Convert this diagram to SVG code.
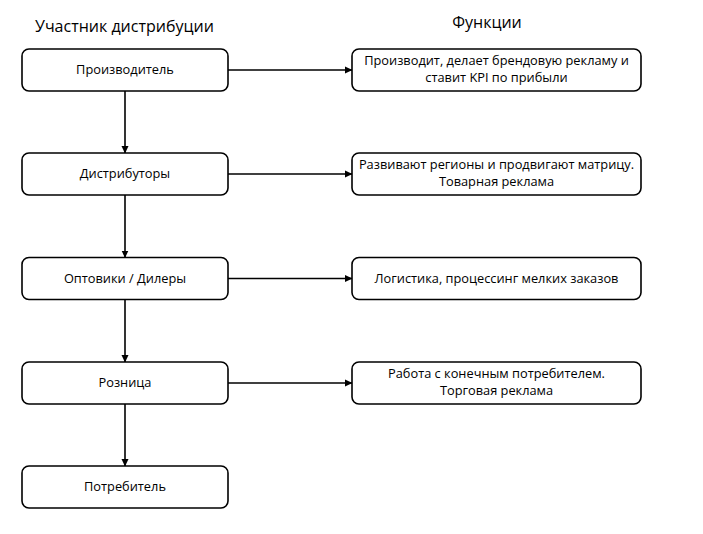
<svg xmlns="http://www.w3.org/2000/svg" width="703" height="534" viewBox="0 0 703 534">
<defs>
<marker id="ah" markerWidth="8" markerHeight="8" refX="7" refY="4" orient="auto" markerUnits="userSpaceOnUse">
<path d="M0,0.5 L7.5,4 L0,7.5 Z" fill="#000"/>
</marker>
<style>
.box{fill:#fff;stroke:#000;stroke-width:1.6}
.t{font-family:"Open Sans","Noto Sans",sans-serif;font-size:12.8px;fill:#000;text-anchor:middle}
.h{font-family:"Open Sans","Noto Sans",sans-serif;font-size:16px;fill:#000}
.c{stroke:#000;stroke-width:1.6;fill:none;marker-end:url(#ah)}
</style>
</defs>
<rect width="703" height="534" fill="#fff"/>
<text class="h" x="35" y="32">Участник дистрибуции</text>
<text class="h" x="487" y="28" text-anchor="middle">Функции</text>
<g id="connectors">
<line class="c" x1="125" y1="91" x2="125" y2="153"/>
<line class="c" x1="125" y1="195" x2="125" y2="257.5"/>
<line class="c" x1="125" y1="299.5" x2="125" y2="362"/>
<line class="c" x1="125" y1="404" x2="125" y2="466"/>
<line class="c" x1="228" y1="70" x2="352" y2="70"/>
<line class="c" x1="228" y1="174" x2="352" y2="174"/>
<line class="c" x1="228" y1="278.5" x2="352" y2="278.5"/>
<line class="c" x1="228" y1="383" x2="352" y2="383"/>
</g>
<g id="n1"><rect class="box" x="22" y="49" width="206" height="42" rx="7"/><text class="t" x="125" y="74">Производитель</text></g>
<g id="n2"><rect class="box" x="22" y="153" width="206" height="42" rx="7"/><text class="t" x="125" y="178">Дистрибуторы</text></g>
<g id="n3"><rect class="box" x="22" y="257.5" width="206" height="42" rx="7"/><text class="t" x="125" y="282.5">Оптовики / Дилеры</text></g>
<g id="n4"><rect class="box" x="22" y="362" width="206" height="42" rx="7"/><text class="t" x="125" y="387">Розница</text></g>
<g id="n5"><rect class="box" x="22" y="466" width="206" height="42" rx="7"/><text class="t" x="125" y="491">Потребитель</text></g>
<g id="f1"><rect class="box" x="352" y="49" width="289" height="42" rx="7"/><text class="t" x="496.5" y="64.5">Производит, делает брендовую рекламу и</text><text class="t" x="496.5" y="82">ставит KPI по прибыли</text></g>
<g id="f2"><rect class="box" x="352" y="153" width="289" height="42" rx="7"/><text class="t" x="496.5" y="168.5">Развивают регионы и продвигают матрицу.</text><text class="t" x="496.5" y="186">Товарная реклама</text></g>
<g id="f3"><rect class="box" x="352" y="257.5" width="289" height="42" rx="7"/><text class="t" x="496.5" y="282.5">Логистика, процессинг мелких заказов</text></g>
<g id="f4"><rect class="box" x="352" y="362" width="289" height="42" rx="7"/><text class="t" x="496.5" y="377.5">Работа с конечным потребителем.</text><text class="t" x="496.5" y="395">Торговая реклама</text></g>
</svg>
